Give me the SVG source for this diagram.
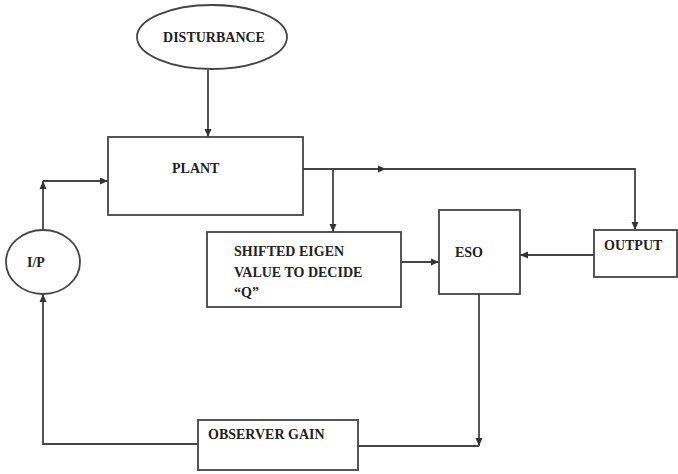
<svg xmlns="http://www.w3.org/2000/svg" width="678" height="474" viewBox="0 0 678 474">
  <defs>
    <marker id="arrow" markerWidth="8" markerHeight="8" refX="8" refY="4" orient="auto" markerUnits="userSpaceOnUse">
      <path d="M0,0.5 L8,4 L0,7.5 Z" fill="#333"/>
    </marker>
    <style>
      .box { fill: #fff; stroke: #444; stroke-width: 1.8; }
      .wire { fill: none; stroke: #444; stroke-width: 1.8; }
      .lbl { font-family: "Times New Roman", "Liberation Serif", "DejaVu Serif", serif; font-weight: bold; font-size: 14px; fill: #222; }
    </style>
  </defs>
  <rect width="678" height="474" fill="#fff"/>

  <g id="connectors">
    <!-- disturbance into plant -->
    <path class="wire" d="M208,70 V137" marker-end="url(#arrow)"/>
    <!-- input to plant -->
    <path class="wire" d="M43,230 V181" marker-end="url(#arrow)"/>
    <path class="wire" d="M43,181 H108" marker-end="url(#arrow)"/>
    <!-- plant output line -->
    <path class="wire" d="M303,169 H386" marker-end="url(#arrow)"/>
    <path class="wire" d="M383,169 H635 V230" marker-end="url(#arrow)"/>
    <!-- branch to eigenvalue block -->
    <path class="wire" d="M333,169 V232" marker-end="url(#arrow)"/>
    <!-- eigenvalue block to ESO -->
    <path class="wire" d="M401,262 H439" marker-end="url(#arrow)"/>
    <!-- output to ESO -->
    <path class="wire" d="M594,255 H520" marker-end="url(#arrow)"/>
    <!-- ESO down to observer gain line -->
    <path class="wire" d="M479,294 V446" marker-end="url(#arrow)"/>
    <path class="wire" d="M358,446 H479"/>
    <!-- observer gain back to input -->
    <path class="wire" d="M198,444 H43 V294" marker-end="url(#arrow)"/>
  </g>

  <g id="disturbance">
    <ellipse class="box" cx="212" cy="37" rx="75" ry="32"/>
    <text class="lbl" x="214" y="42" text-anchor="middle">DISTURBANCE</text>
  </g>

  <g id="plant">
    <rect class="box" x="108" y="137" width="195" height="78"/>
    <text class="lbl" x="172" y="173">PLANT</text>
  </g>

  <g id="input">
    <ellipse class="box" cx="43" cy="262" rx="37" ry="32"/>
    <text class="lbl" x="27" y="267">I/P</text>
  </g>

  <g id="eigen">
    <rect class="box" x="207" y="232" width="194" height="75"/>
    <text class="lbl" x="234" y="256">SHIFTED EIGEN</text>
    <text class="lbl" x="234" y="277">VALUE TO DECIDE</text>
    <text class="lbl" x="234" y="297">“Q”</text>
  </g>

  <g id="eso">
    <rect class="box" x="439" y="210" width="81" height="84"/>
    <text class="lbl" x="455" y="257">ESO</text>
  </g>

  <g id="output">
    <rect class="box" x="594" y="230" width="83" height="47"/>
    <text class="lbl" x="604" y="250">OUTPUT</text>
  </g>

  <g id="observer-gain">
    <rect class="box" x="198" y="420" width="160" height="50"/>
    <text class="lbl" x="208" y="439">OBSERVER GAIN</text>
  </g>
</svg>
